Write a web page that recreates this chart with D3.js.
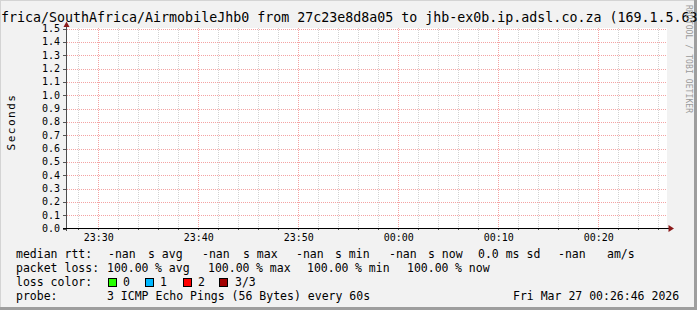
<!DOCTYPE html>
<html><head><meta charset="utf-8">
<script src="https://cdn.jsdelivr.net/npm/d3@7"></script>
<style>
html,body{margin:0;padding:0;background:#f2f2f2;}
svg{display:block;}
text{font-family:"DejaVu Sans Mono",monospace;fill:#000;}
</style></head><body>
<svg id="chart" width="697" height="310"></svg>
<script>
// ---- data ----
const titleText = "frica/SouthAfrica/AirmobileJhb0 from 27c23e8d8a05 to jhb-ex0b.ip.adsl.co.za (169.1.5.63)";
const yLabel = "Seconds";
const yTicks = [0.0,0.1,0.2,0.3,0.4,0.5,0.6,0.7,0.8,0.9,1.0,1.1,1.2,1.3,1.4,1.5];
const yDomain = [0, 1.5];
const timeStart = "2026-03-26T23:26:46";
const timeEnd = "2026-03-27T00:26:46";
const xTickLabels = ["23:30","23:40","23:50","00:00","00:10","00:20"];
// measurement series: all values missing (100% packet loss)
const medianRtt = [NaN, NaN, NaN, NaN, NaN, NaN];
const rttStatLabels = ["avg","max","min","now"];
const rttStatValues = ["-nan","-nan","-nan","-nan"];
const rttSd = "0.0 ms";
const rttAmS = "-nan";
const lossStatLabels = ["avg","max","min","now"];
const lossStatValues = [100, 100, 100, 100];
const lossColorLabels = ["0","1","2","3/3"];
const lossColors = ["#26ff00","#00b8ff","#ff0000","#a10000"];
const probeText = "3 ICMP Echo Pings (56 Bytes) every 60s";
const dateText = "Fri Mar 27 00:26:46 2026";
const watermark = "RRDTOOL / TOBI OETIKER";

// ---- drawing ----
const svg = d3.select("#chart");
const W = 697, H = 310;
const parse = d3.timeParse("%Y-%m-%dT%H:%M:%S");
const t0 = parse(timeStart), t1 = parse(timeEnd);
const x = d3.scaleTime().domain([t0, t1]).range([66, 666]);
const y = d3.scaleLinear().domain(yDomain).range([228.5, 28.5]);
const px = v => Math.round(x(v)) + 0.5;

// background & shading
svg.append("rect").attr("width", W).attr("height", H).attr("fill", "#f2f2f2");
svg.append("rect").attr("x",0).attr("y",0).attr("width",W).attr("height",1).attr("fill","#d4d4d4");
svg.append("rect").attr("x",0).attr("y",0).attr("width",1).attr("height",H).attr("fill","#d4d4d4");
svg.append("rect").attr("x",694).attr("y",0).attr("width",3).attr("height",H).attr("fill","#9e9e9e");
svg.append("rect").attr("x",0).attr("y",307).attr("width",W).attr("height",3).attr("fill","#9e9e9e");

// canvas
svg.append("rect").attr("x",67).attr("y",28).attr("width",600).attr("height",200).attr("fill","#fff");

// minor vertical grid (2 min)
const minorT = d3.timeMinute.every(2).range(t0, t1).filter(d => d.getMinutes() % 10 !== 0);
svg.append("g").selectAll("line").data(minorT).join("line")
  .attr("x1", d => px(d)).attr("x2", d => px(d)).attr("y1", 28).attr("y2", 228)
  .attr("stroke", "#d2d2d2").attr("stroke-width", 1).attr("stroke-dasharray", "1,1");
// major vertical grid
const majorT = d3.timeMinute.every(10).range(t0, t1);
svg.append("g").selectAll("line").data(majorT).join("line")
  .attr("x1", d => px(d)).attr("x2", d => px(d)).attr("y1", 28).attr("y2", 228)
  .attr("stroke", "#f4a3a3").attr("stroke-width", 1).attr("stroke-dasharray", "1,1");
// horizontal grid
svg.append("g").selectAll("line").data(yTicks.filter(v => v > 0)).join("line")
  .attr("x1", 67).attr("x2", 667).attr("y1", d => Math.round(y(d)) + 0.5).attr("y2", d => Math.round(y(d)) + 0.5)
  .attr("stroke", "#f4a3a3").attr("stroke-width", 1).attr("stroke-dasharray", "1,1");

// data line (no valid points -> nothing drawn)
const xs = d3.scaleLinear().domain([0, medianRtt.length - 1]).range([x(t0), x(t1)]);
svg.append("path").datum(medianRtt)
  .attr("d", d3.line().defined(d => !isNaN(d)).x((d, i) => xs(i)).y(d => y(d)))
  .attr("fill", "none").attr("stroke", "#00b8ff");

// y axis ticks & labels
svg.append("g").selectAll("line").data(yTicks).join("line")
  .attr("x1", 63).attr("x2", 67).attr("y1", d => Math.round(y(d)) + 0.5).attr("y2", d => Math.round(y(d)) + 0.5)
  .attr("stroke", "#555");
svg.append("g").selectAll("text").data(yTicks).join("text")
  .attr("x", 60).attr("y", d => y(d) + 3.6).attr("text-anchor", "end")
  .attr("font-size", "10px").text(d => d3.format(".1f")(d));

// x axis labels
const xTickTimes = xTickLabels.map(s => {
  const [hh, mm] = s.split(":").map(Number);
  const d = new Date(hh >= 12 ? t0 : t1); d.setHours(hh, mm, 0, 0); return d;
});
svg.append("g").selectAll("text").data(xTickLabels).join("text")
  .attr("x", (d, i) => x(xTickTimes[i]) + 0.5).attr("y", 241).attr("text-anchor", "middle")
  .attr("font-size", "10px").text(d => d);
svg.append("g").selectAll("line").data(d3.timeMinute.every(2).range(t0, t1)).join("line")
  .attr("x1", d => px(d)).attr("x2", d => px(d)).attr("y1", 228).attr("y2", 230)
  .attr("stroke", "#555");

// axes
svg.append("line").attr("x1", 66.5).attr("x2", 66.5).attr("y1", 231).attr("y2", 26).attr("stroke", "#4d4d4d");
svg.append("line").attr("x1", 63).attr("x2", 669).attr("y1", 228.5).attr("y2", 228.5).attr("stroke", "#000");
svg.append("path").attr("d", "M63.5,27 L66.5,21.5 L69.5,27 Z").attr("fill", "#8b1a1a");
svg.append("path").attr("d", "M668.5,225 L674,228.5 L668.5,232 Z").attr("fill", "#8b1a1a");

// title
svg.append("text").attr("x", 1).attr("y", 22).attr("font-size", "13.3px").text(titleText);

// y label
svg.append("text").attr("transform", "translate(15,122) rotate(-90)").attr("text-anchor", "middle")
  .attr("font-size", "11px").attr("letter-spacing", "1.5px").text(yLabel);

// watermark
svg.append("text").attr("transform", "translate(685.5,5) rotate(90)").attr("font-size", "8px")
  .attr("letter-spacing", "0.1px").style("fill", "#9a9a9a").text(watermark);

// legend
const lg = svg.append("g").attr("font-size", "11.5px");
const seg = (xx, yy, t) => lg.append("text").attr("x", xx).attr("y", yy).attr("xml:space", "preserve").text(t);
// line 1
seg(16, 258, "median rtt:");
const rttValX = [108, 202, 296, 389], rttLabX = [148, 243, 335, 428];
rttStatValues.forEach((v, i) => { seg(rttValX[i], 258, v); seg(rttLabX[i], 258, "s " + rttStatLabels[i]); });
seg(478, 258, rttSd + " sd");
seg(558, 258, rttAmS);
seg(607, 258, "am/s");
// line 2
seg(16, 272, "packet loss:");
const lossValX = [107, 208, 307, 407];
lossStatValues.forEach((v, i) => { seg(lossValX[i], 272, d3.format(".2f")(v)); seg(lossValX[i] + 48, 272, "% " + lossStatLabels[i]); });
// line 3
seg(16, 286, "loss color:");
const boxX = [108, 145, 183, 219], boxLabX = [123, 160, 198, 235];
lossColors.forEach((c, i) => {
  lg.append("rect").attr("x", boxX[i] + 0.5).attr("y", 278.5).attr("width", 8).attr("height", 8)
    .attr("fill", c).attr("stroke", "#000").attr("stroke-width", 1);
  seg(boxLabX[i], 286, lossColorLabels[i]);
});
// line 4
seg(16, 300, "probe:");
seg(107, 300, probeText);
seg(513, 300, dateText);
</script>
</body></html>
